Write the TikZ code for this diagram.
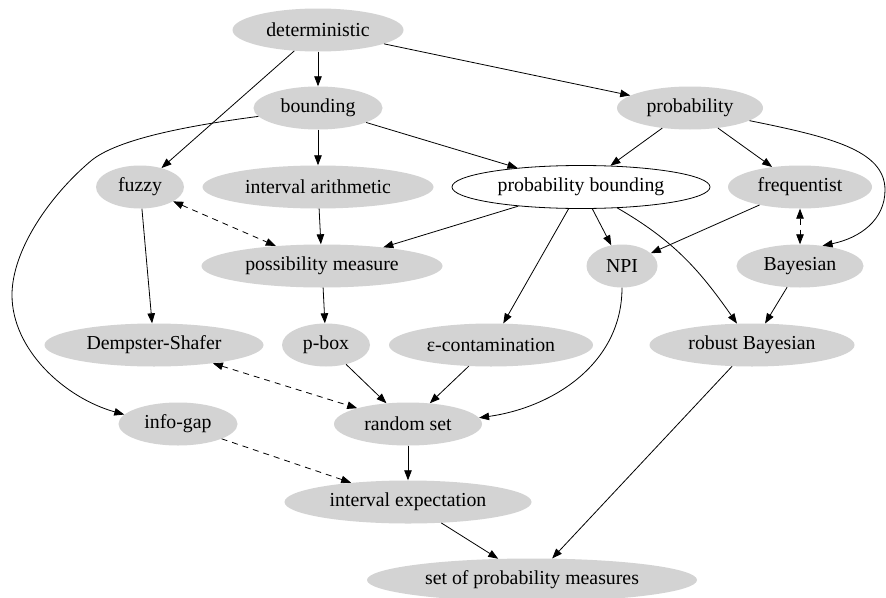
\documentclass[tikz,border=0pt]{standalone}
\usepackage{fontspec}
\setmainfont{Liberation Serif}
\newfontfamily\gvfont{Liberation Serif}
\usetikzlibrary{shapes.geometric,arrows.meta}
\definecolor{gvgray}{HTML}{D3D3D3}
\begin{document}
\begin{tikzpicture}[x=1pt,y=-1pt,
  nd/.style={ellipse,fill=gvgray,draw=none,inner sep=0pt,minimum height=43pt,
    font=\gvfont\fontsize{19.8}{22}\selectfont},
  ndw/.style={nd,fill=white,draw=black,line width=0.8pt},
  ar/.style={-{Triangle[length=10pt,width=7.5pt]},line width=0.8pt},
  dar/.style={{Triangle[length=10pt,width=7.5pt]}-{Triangle[length=10pt,width=7.5pt]},line width=0.8pt,dash pattern=on 6pt off 5pt},
  dsar/.style={ar,dash pattern=on 6pt off 5pt}]
\useasboundingbox (0,0) rectangle (886,597);
\node[nd,minimum width=171pt] (det) at (318,30) {deterministic};
\node[nd,minimum width=129pt] (bnd) at (318,108) {bounding};
\node[nd,minimum width=146pt] (prob) at (690,108) {probability};
\node[nd,minimum width=88pt] (fuz) at (140,187) {fuzzy};
\node[nd,minimum width=231pt] (ia) at (318,187) {interval arithmetic};
\node[ndw,minimum width=258pt] (pb) at (581,187) {probability bounding};
\node[nd,minimum width=144pt] (freq) at (800,187) {frequentist};
\node[nd,minimum width=241pt] (pm) at (322,266) {possibility measure};
\node[nd,minimum width=71pt] (npi) at (622,266) {NPI};
\node[nd,minimum width=127pt] (bay) at (800,266) {Bayesian};
\node[nd,minimum width=219pt] (ds) at (154,345) {Dempster-Shafer};
\node[nd,minimum width=88pt] (pbox) at (326,345) {p-box};
\node[nd,minimum width=204pt] (eps) at (491,345) {ε-contamination};
\node[nd,minimum width=205pt] (rb) at (752,345) {robust Bayesian};
\node[nd,minimum width=119pt] (ig) at (178,424) {info-gap};
\node[nd,minimum width=148pt] (rs) at (408,424) {random set};
\node[nd,minimum width=247pt] (ie) at (408,502) {interval expectation};
\node[nd,minimum width=330pt] (spm) at (532,580) {set of probability measures};

\draw[ar] (det) -- (bnd);
\draw[ar] (det) -- (fuz);
\draw[ar] (det) -- (prob);
\draw[ar] (bnd) -- (ia);
\draw[ar] (bnd) -- (pb);
\draw[ar] (bnd.188) .. controls (170,128) and (115,142) .. (92,160)
  .. controls (50,195) and (12,250) .. (12,295)
  .. controls (12,350) and (65,398) .. (ig.170);
\draw[ar] (prob) -- (pb);
\draw[ar] (prob) -- (freq);
\draw[ar] (prob.-12) .. controls (830,137) and (885,150) .. (885,190)
  .. controls (885,220) and (860,238) .. (bay.42);
\draw[ar] (fuz) -- (ds);
\draw[dar] (fuz) -- (pm);
\draw[ar] (ia) -- (pm);
\draw[ar] (pb) -- (pm);
\draw[ar] (pb) -- (eps);
\draw[ar] (pb) -- (npi);
\draw[ar] (pb) to[out=-30,in=125] (rb);
\draw[ar] (freq) -- (npi);
\draw[dar] (freq) -- (bay);
\draw[ar] (bay) -- (rb);
\draw[ar] (pm) -- (pbox);
\draw[ar] (npi.south) to[out=-90,in=8] (rs.5);
\draw[dar] (ds) -- (rs);
\draw[ar] (pbox) -- (rs);
\draw[ar] (eps) -- (rs);
\draw[dsar] (ig) -- (ie);
\draw[ar] (rs) -- (ie);
\draw[ar] (ie) -- (spm);
\draw[ar] (rb) -- (spm);
\end{tikzpicture}
\end{document}
